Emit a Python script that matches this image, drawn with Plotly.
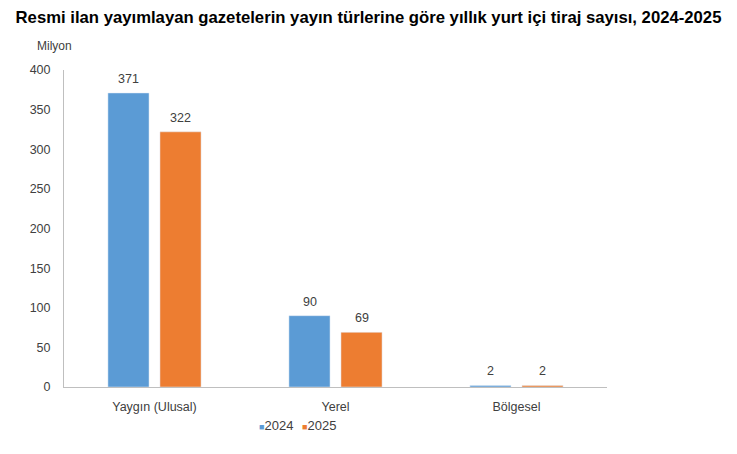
import plotly.graph_objects as go

categories = ["Yaygın (Ulusal)", "Yerel", "Bölgesel"]
values_2024 = [371, 90, 2]
values_2025 = [322, 69, 2]
series_names = ["2024", "2025"]
y_ticks = [0, 50, 100, 150, 200, 250, 300, 350, 400]

blue = "#5B9BD5"
orange = "#ED7D31"
colors = [blue, orange]
font_family = "Liberation Sans, Arial, sans-serif"

fig = go.Figure()
for name, vals, col in zip(series_names, [values_2024, values_2025], colors):
    fig.add_trace(go.Bar(
        x=categories, y=vals, name=name, marker_color=col,
    ))

annotations = []
for offset, vals in zip([-26, 26], [values_2024, values_2025]):
    for cat, v in zip(categories, vals):
        annotations.append(dict(
            x=cat, y=v, xref="x", yref="y", text=str(v), showarrow=False,
            xshift=offset, yshift=5, xanchor="center", yanchor="bottom",
            font=dict(size=12.5, color="#404040"),
        ))

# legend items (custom compact legend)
for i, (n, c) in enumerate(zip(series_names, colors)):
    annotations.append(dict(
        text=f"<span style='color:{c}; font-size:9px'>■</span>{n}",
        xref="paper", yref="paper", x=0.355, y=-0.12, xshift=43 * i,
        xanchor="left", yanchor="middle", showarrow=False,
        font=dict(size=13, color="#404040"),
    ))

annotations.append(dict(
    text="Milyon", xref="paper", yref="paper", x=-0.017, y=1.075,
    xanchor="center", yanchor="middle", showarrow=False,
    font=dict(size=12, color="#404040"),
))

fig.update_layout(
    width=737, height=454,
    margin=dict(l=64, r=130, t=70, b=67),
    plot_bgcolor="white", paper_bgcolor="white",
    barmode="group", bargap=0.425, bargroupgap=0.21,
    font=dict(family=font_family, size=12, color="#404040"),
    title=dict(
        text="<b>Resmi ilan yayımlayan gazetelerin yayın türlerine göre yıllık yurt içi tiraj sayısı, 2024-2025</b>",
        x=0.5, xref="container", xanchor="center", y=0.963, yanchor="middle",
        font=dict(size=16.7, color="#000000", family=font_family),
    ),
    showlegend=False,
    annotations=annotations,
)

fig.update_yaxes(
    range=[0, 400], tickvals=y_ticks, showgrid=False, zeroline=False,
    showline=True, linecolor="#BFBFBF", linewidth=1,
    ticks="", ticklabelstandoff=10,
    tickfont=dict(size=12.5, color="#404040"),
)
fig.update_xaxes(
    showgrid=False, showline=True, linecolor="#BFBFBF", linewidth=1,
    ticks="", ticklabelstandoff=8,
    tickfont=dict(size=12.5, color="#404040"),
)

fig.write_html("out.html")
